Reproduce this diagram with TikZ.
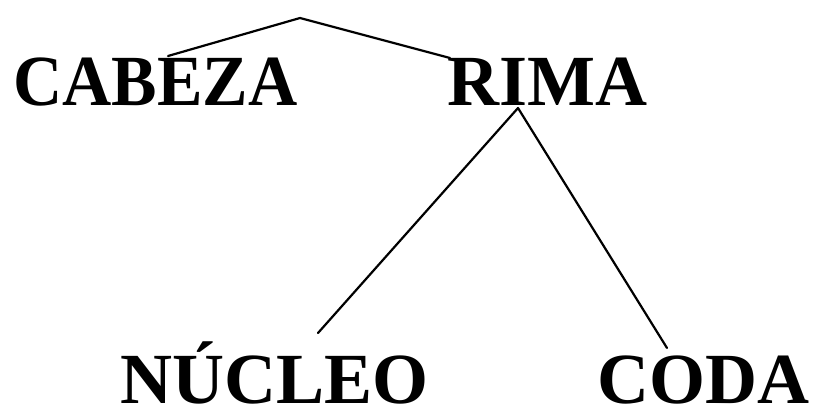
\documentclass[tikz,border=0pt]{standalone}
\usepackage{fontspec}
\setmainfont{Liberation Serif}
\begin{document}
\begin{tikzpicture}[x=1pt,y=-1pt,
  word/.style={inner sep=0pt,anchor=base west,font=\fontsize{72}{80}\selectfont\bfseries},
  branch/.style={line width=2.2pt,line cap=round,line join=round}]
\useasboundingbox (0,0) rectangle (814,418);
\node[word] (cab) at (13,105) {\scalebox{0.947}[1]{CABEZA}};
\node[word] (rima) at (447,105) {RIMA};
\node[word] (nuc) at (120,403) {NÚCLEO};
\node[word] (coda) at (597,403) {CODA};
\coordinate (apex) at (300,18);
\coordinate (cabtop) at (168,56);
\coordinate (rimatop) at (450,58);
\coordinate (rimabot) at (518,108);
\coordinate (nucend) at (318,333);
\coordinate (codaend) at (667,348);
\draw[branch] (cabtop) -- (apex) -- (rimatop);
\draw[branch] (nucend) -- (rimabot) -- (codaend);
\end{tikzpicture}
\end{document}
